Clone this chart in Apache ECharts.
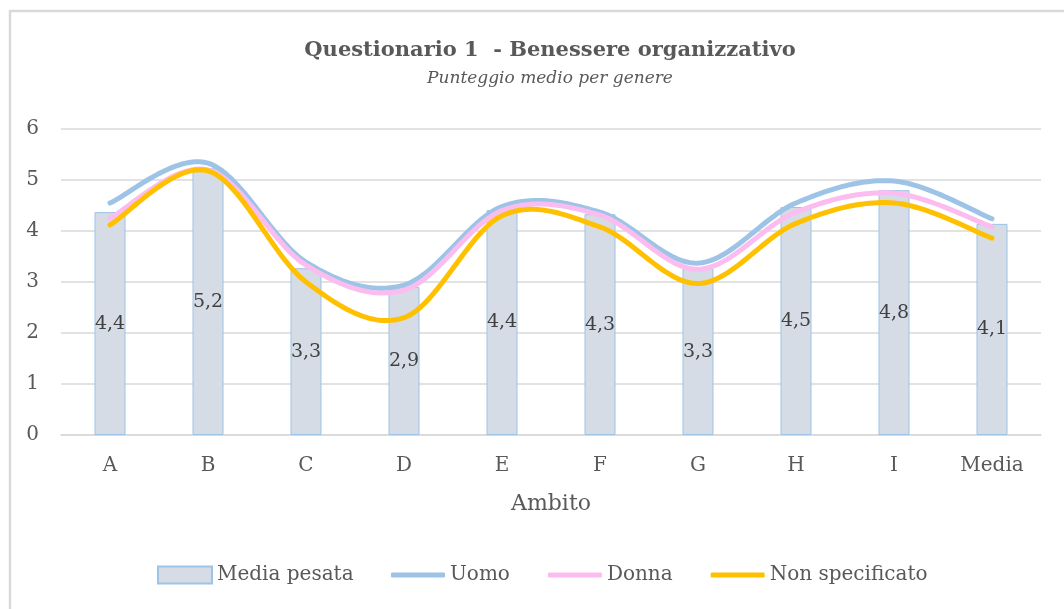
<!DOCTYPE html>
<html><head><meta charset="utf-8">
<script src="https://cdn.jsdelivr.net/npm/echarts@6/dist/echarts.min.js"></script>
<style>html,body{margin:0;padding:0;background:#fff}#c{width:1064px;height:609px}</style>
</head><body><div id="c"></div>
<script>
const categories = ['A','B','C','D','E','F','G','H','I','Media'];
const mediaPesata = [4.37, 5.23, 3.27, 2.9, 4.41, 4.33, 3.27, 4.47, 4.8, 4.14];
const uomo = [4.55, 5.33, 3.39, 2.94, 4.48, 4.37, 3.37, 4.55, 4.98, 4.24];
const donna = [4.25, 5.2, 3.33, 2.84, 4.4, 4.31, 3.25, 4.37, 4.74, 4.08];
const nonSpecificato = [4.12, 5.18, 3.0, 2.3, 4.3, 4.08, 2.97, 4.15, 4.55, 3.86];
const yTicks = [0,1,2,3,4,5,6];
const FONT = 'DejaVu Serif';
const TXT = '#595959';

function splineSeries(name, arr, color){
  return {
    name, type:'custom', data: arr.map((v,i)=>[i,v]), z:3,
    itemStyle:{color},
    renderItem:(params, api)=>{
      if (params.dataIndex !== 0) return null;
      const pts = arr.map((v,i)=>api.coord([i,v]));
      const out = [];
      const n = pts.length;
      for (let i=0;i<n-1;i++){
        const p0=pts[Math.max(i-1,0)], p1=pts[i], p2=pts[i+1], p3=pts[Math.min(i+2,n-1)];
        const c1=[p1[0]+(p2[0]-p0[0])/6, p1[1]+(p2[1]-p0[1])/6];
        const c2=[p2[0]-(p3[0]-p1[0])/6, p2[1]-(p3[1]-p1[1])/6];
        const steps = 24;
        for (let s=(i===0?0:1); s<=steps; s++){
          const t=s/steps, u=1-t;
          const a=u*u*u, b=3*u*u*t, c=3*u*t*t, d=t*t*t;
          out.push([a*p1[0]+b*c1[0]+c*c2[0]+d*p2[0], a*p1[1]+b*c1[1]+c*c2[1]+d*p2[1]]);
        }
      }
      return {type:'polyline', shape:{points:out},
        style:{fill:null, stroke:color, lineWidth:5, lineCap:'round', lineJoin:'round'}};
    }
  };
}

const chart = echarts.init(document.getElementById('c'));
chart.setOption({
  animation:false,
  textStyle:{fontFamily:FONT},
  graphic:[
    {type:'line', shape:{x1:10,y1:11,x2:1064,y2:11}, style:{stroke:'#d9d9d9',lineWidth:2.5}, silent:true},
    {type:'line', shape:{x1:10,y1:10,x2:10,y2:609}, style:{stroke:'#d9d9d9',lineWidth:2.5}, silent:true}
  ],
  title:{text:'Questionario 1  - Benessere organizzativo',subtext:'Punteggio medio per genere',
    left:545, top:35, textAlign:'center', itemGap:9,
    textStyle:{fontFamily:FONT,fontSize:21,fontWeight:'bold',color:TXT},
    subtextStyle:{fontFamily:FONT,fontSize:17,fontStyle:'italic',color:TXT}},
  legend:[
    {top:565, left:157, padding:0, itemWidth:54, itemHeight:17,
     textStyle:{fontFamily:FONT,fontSize:20,color:TXT},
     data:[{name:'Media pesata',icon:'rect'}]},
    {top:565, left:391, padding:0, itemGap:38, itemWidth:54, itemHeight:5,
     textStyle:{fontFamily:FONT,fontSize:20,color:TXT},
     data:[{name:'Uomo',icon:'roundRect'},{name:'Donna',icon:'roundRect'},{name:'Non specificato',icon:'roundRect'}]}
  ],
  grid:{left:61,right:23,top:129,bottom:174},
  xAxis:{type:'category',data:categories,name:'Ambito',nameLocation:'middle',nameGap:58,
    nameTextStyle:{fontFamily:FONT,fontSize:22,color:TXT},
    axisLine:{lineStyle:{color:'#d9d9d9',width:1.5}},axisTick:{show:false},
    axisLabel:{fontFamily:FONT,fontSize:20,color:TXT,margin:21}},
  yAxis:{type:'value',min:yTicks[0],max:yTicks[yTicks.length-1],interval:1,
    axisLine:{show:false},axisTick:{show:false},
    axisLabel:{fontFamily:FONT,fontSize:20,color:TXT,margin:22},
    splitLine:{lineStyle:{color:'#d9d9d9',width:1.5}}},
  series:[
    {name:'Media pesata',type:'bar',data:mediaPesata,barWidth:31,z:2,
     itemStyle:{color:'#d6dce5',borderColor:'#9dc3e6',borderWidth:1},
     label:{show:true,position:'inside',fontFamily:FONT,fontSize:19,color:'#404040',
       formatter:p=>(Math.round(p.value*10)/10).toFixed(1).replace('.',',')}},
    splineSeries('Uomo', uomo, '#9dc3e6'),
    splineSeries('Donna', donna, '#fbbdf0'),
    splineSeries('Non specificato', nonSpecificato, '#ffc000')
  ]
});
</script></body></html>
